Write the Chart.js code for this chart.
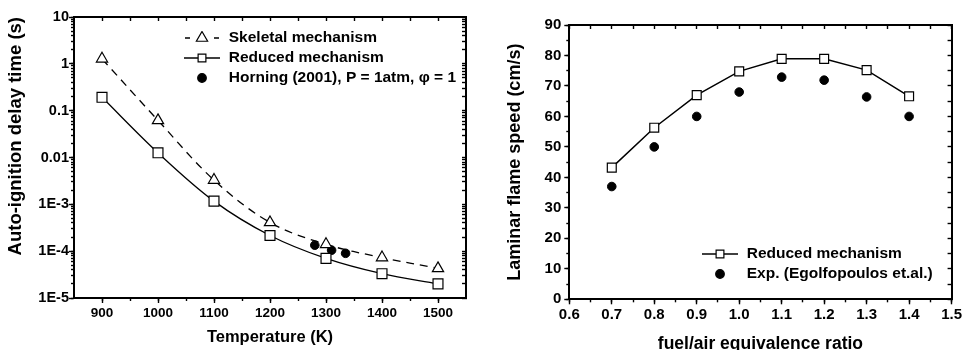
<!DOCTYPE html>
<html>
<head>
<meta charset="utf-8">
<script src="https://cdn.jsdelivr.net/npm/chart.js@4.4.1/dist/chart.umd.min.js"></script>
<style>
  html, body { margin: 0; padding: 0; background: #fff; overflow: hidden; }
  #wrap { position: relative; width: 964px; height: 350px; overflow: hidden; }
  #ignition { position: absolute; left: 0; top: 0; }
  #flame { position: absolute; left: 480px; top: 0; }
</style>
</head>
<body>
<div id="wrap">
  <canvas id="ignition" width="480" height="350"></canvas>
  <canvas id="flame" width="484" height="360"></canvas>
</div>
<script>
// left panel - auto-ignition delay vs temperature
const temps = [900, 1000, 1100, 1200, 1300, 1400, 1500];
const skeletalDelay = [1.28, 0.062, 0.0033, 4.1e-4, 1.4e-4, 7.3e-5, 4.3e-5];
const reducedDelay = [0.193, 0.0126, 1.17e-3, 2.16e-4, 7.0e-5, 3.3e-5, 2.0e-5];
const horningTemps = [1280, 1310, 1335];
const horningDelay = [1.34e-4, 1.05e-4, 0.9e-4];
const tempTicks = [900, 1000, 1100, 1200, 1300, 1400, 1500];
const delayTicks = [1e-5, 1e-4, 1e-3, 0.01, 0.1, 1, 10];
const delayTickLabels = ['1E-5', '1E-4', '1E-3', '0.01', '0.1', '1', '10'];

// right panel - laminar flame speed vs equivalence ratio
const phi = [0.7, 0.8, 0.9, 1.0, 1.1, 1.2, 1.3, 1.4];
const reducedSpeed = [43.2, 56.3, 67.0, 74.8, 78.9, 78.9, 75.2, 66.6];
const expSpeed = [37.0, 50.0, 60.0, 68.0, 72.9, 71.9, 66.4, 60.0];
const phiTicks = [0.6, 0.7, 0.8, 0.9, 1.0, 1.1, 1.2, 1.3, 1.4, 1.5];
const speedTicks = [0, 10, 20, 30, 40, 50, 60, 70, 80, 90];

const FONT = "'Liberation Sans', Arial, Helvetica, sans-serif";
const black = '#000';

function pts(xs, ys) {
  return xs.map((x, i) => ({x: x, y: ys[i]}));
}

// majors plus a minor halfway between each pair
function withHalves(vals) {
  const out = [];
  vals.forEach((v, i) => {
    out.push(v);
    if (i < vals.length - 1) out.push((v + vals[i + 1]) / 2);
  });
  return out;
}

function logMinors(lo, hi) {
  const out = [];
  for (let e = lo; e < hi; e++) {
    for (let m = 1; m < 10; m++) out.push(m * Math.pow(10, e));
  }
  out.push(Math.pow(10, hi));
  return out;
}

const useTicks = vals => scale => { scale.ticks = vals.map(v => ({value: v})); };
const bold = size => ({family: FONT, size: size, weight: 'bold'});

// small picture used as legend symbol: line piece + marker
function legendSymbol(ds) {
  const c = document.createElement('canvas');
  c.width = 36;
  c.height = 14;
  const g = c.getContext('2d');
  g.strokeStyle = black;
  g.lineWidth = 1.3;
  if (ds.legendLine === 'dash') {
    g.beginPath();
    g.moveTo(1, 7); g.lineTo(6, 7);
    g.moveTo(30, 7); g.lineTo(35, 7);
    g.stroke();
  } else if (ds.legendLine === 'solid') {
    g.beginPath();
    g.moveTo(0, 7); g.lineTo(36, 7);
    g.stroke();
  }
  g.fillStyle = ds.pointBackgroundColor;
  g.lineWidth = 1.2;
  Chart.helpers.drawPoint(g, {pointStyle: ds.pointStyle, radius: ds.legendRadius, borderWidth: 1.2}, 18, 7);
  return c;
}

function legendOpts() {
  return {
    position: 'chartArea',
    align: 'start',
    labels: {
      usePointStyle: true,
      pointStyleWidth: 38,
      padding: 4.5,
      color: black,
      font: bold(15.5),
      generateLabels: chart => chart.data.datasets.map((ds, i) => ({
        text: ds.label,
        pointStyle: legendSymbol(ds),
        datasetIndex: i,
        hidden: false,
        fontColor: black,
        lineWidth: 0,
        fillStyle: black,
        strokeStyle: black
      }))
    }
  };
}

// move the in-plot legend to where it sits in the figure
const placeLegend = (dx, dy) => ({
  id: 'placeLegend',
  afterLayout(chart) {
    const lg = chart.legend, area = chart.chartArea;
    lg.left = area.left + dx;
    lg.top = area.top + dy;
    lg.right = area.right;
    lg.bottom = area.bottom;
  }
});

// four framed axes: bottom/left labelled, minor ticks, inward ticks on top/right
function frameScales(o) {
  const gridBase = {drawOnChartArea: false, tickColor: black, tickWidth: 1.4};
  return {
    x: {
      type: 'linear', axis: 'x', position: 'bottom', weight: 1,
      min: o.xMin, max: o.xMax,
      afterBuildTicks: useTicks(o.xTicks),
      ticks: {font: bold(o.xTickSize), color: black, padding: 2, autoSkip: false, maxRotation: 0,
        callback: o.xLabel},
      grid: Object.assign({tickLength: 5}, gridBase),
      border: {color: black, width: 2},
      title: {display: true, text: o.xTitle, color: black, font: bold(o.xTitleSize),
        padding: {top: 0, bottom: o.xTitlePad}},
      afterFit: s => { s.height = o.xHeight; }
    },
    xMinor: {
      type: 'linear', axis: 'x', position: 'bottom', weight: 0,
      min: o.xMin, max: o.xMax,
      afterBuildTicks: useTicks(o.xMinorTicks),
      ticks: {display: false},
      grid: Object.assign({tickLength: 3}, gridBase),
      border: {display: false},
      afterFit: s => { s.height = 0; }
    },
    xTop: {
      type: 'linear', axis: 'x', position: 'top',
      min: o.xMin, max: o.xMax,
      afterBuildTicks: useTicks(o.xMinorTicks),
      ticks: {display: false},
      grid: Object.assign({tickLength: -4}, gridBase),
      border: {color: black, width: 2},
      afterFit: s => { s.height = 0; }
    },
    y: {
      type: o.yType, axis: 'y', position: 'left', weight: 1,
      min: o.yMin, max: o.yMax,
      afterBuildTicks: useTicks(o.yTicks),
      ticks: {font: bold(o.yTickSize), color: black, padding: o.yTickPad, autoSkip: false,
        callback: o.yLabel},
      grid: Object.assign({tickLength: 5}, gridBase),
      border: {color: black, width: 2},
      title: {display: true, text: o.yTitle, color: black, font: bold(o.yTitleSize),
        align: o.yTitleAlign, padding: {top: o.yTitlePad, bottom: 0}},
      afterFit: s => { s.width = o.yWidth; }
    },
    yMinor: {
      type: o.yType, axis: 'y', position: 'left', weight: 0,
      min: o.yMin, max: o.yMax,
      afterBuildTicks: useTicks(o.yMinorTicks),
      ticks: {display: false},
      grid: Object.assign({tickLength: 3}, gridBase),
      border: {display: false},
      afterFit: s => { s.width = 0; }
    },
    yRight: {
      type: o.yType, axis: 'y', position: 'right',
      min: o.yMin, max: o.yMax,
      afterBuildTicks: useTicks(o.yMinorTicks),
      ticks: {display: false},
      grid: Object.assign({tickLength: -4}, gridBase),
      border: {color: black, width: 2},
      afterFit: s => { s.width = 0; }
    }
  };
}

new Chart(document.getElementById('ignition'), {
  type: 'scatter',
  data: {
    datasets: [
      {
        label: 'Skeletal mechanism',
        data: pts(temps, skeletalDelay),
        showLine: true, tension: 0.35,
        borderColor: black, borderWidth: 1.3, borderDash: [8, 6],
        pointStyle: 'triangle', pointRadius: 6.5, legendRadius: 6.5,
        pointBackgroundColor: '#fff', pointBorderColor: black, pointBorderWidth: 1.2,
        legendLine: 'dash', xAxisID: 'x', yAxisID: 'y'
      },
      {
        label: 'Reduced mechanism',
        data: pts(temps, reducedDelay),
        showLine: true, tension: 0.35,
        borderColor: black, borderWidth: 1.3,
        pointStyle: 'rect', pointRadius: 7, legendRadius: 5.5,
        pointBackgroundColor: '#fff', pointBorderColor: black, pointBorderWidth: 1.2,
        legendLine: 'solid', xAxisID: 'x', yAxisID: 'y'
      },
      {
        label: 'Horning (2001), P = 1atm, \u03c6 = 1',
        data: pts(horningTemps, horningDelay),
        showLine: false,
        pointStyle: 'circle', pointRadius: 4.3, legendRadius: 4.3,
        pointBackgroundColor: black, pointBorderColor: black, pointBorderWidth: 1,
        legendLine: 'none', xAxisID: 'x', yAxisID: 'y'
      }
    ]
  },
  options: {
    responsive: false,
    animation: false,
    events: [],
    layout: {autoPadding: false, padding: {left: 0, top: 17, right: 14, bottom: 0}},
    scales: frameScales({
      xMin: 850, xMax: 1550, xTicks: tempTicks, xMinorTicks: withHalves(tempTicks),
      xLabel: v => String(v), xTitle: 'Temperature (K)', xTitleSize: 16.5, xTitlePad: 3, xHeight: 52,
      yType: 'logarithmic', yMin: 1e-5, yMax: 10, yTicks: delayTicks, yMinorTicks: logMinors(-5, 1),
      yLabel: (v, i) => delayTickLabels[i], yTickPad: 0,
      yTitle: 'Auto-ignition delay time (s)', yTitleSize: 18.5, yTitleAlign: 'end', yTitlePad: 5,
      yWidth: 74, xTickSize: 13.5, yTickSize: 14.5
    }),
    plugins: {
      legend: legendOpts(),
      tooltip: {enabled: false}
    }
  },
  plugins: [placeLegend(104.5, 8.75)]
});

new Chart(document.getElementById('flame'), {
  type: 'scatter',
  data: {
    datasets: [
      {
        label: 'Reduced mechanism',
        data: pts(phi, reducedSpeed),
        showLine: true, tension: 0,
        borderColor: black, borderWidth: 1.5,
        pointStyle: 'rect', pointRadius: 6.3, legendRadius: 5.5,
        pointBackgroundColor: '#fff', pointBorderColor: black, pointBorderWidth: 1.2,
        legendLine: 'solid', xAxisID: 'x', yAxisID: 'y'
      },
      {
        label: 'Exp. (Egolfopoulos et.al.)',
        data: pts(phi, expSpeed),
        showLine: false,
        pointStyle: 'circle', pointRadius: 4.3, legendRadius: 4.3,
        pointBackgroundColor: black, pointBorderColor: black, pointBorderWidth: 1,
        legendLine: 'none', xAxisID: 'x', yAxisID: 'y'
      }
    ]
  },
  options: {
    responsive: false,
    animation: false,
    events: [],
    layout: {autoPadding: false, padding: {left: 0, top: 25, right: 11.3, bottom: 0}},
    scales: frameScales({
      xMin: 0.6, xMax: 1.5, xTicks: phiTicks, xMinorTicks: withHalves(phiTicks),
      xLabel: v => v.toFixed(1), xTitle: 'fuel/air equivalence ratio', xTitleSize: 17.5, xTitlePad: 5.5, xHeight: 60.7,
      yType: 'linear', yMin: 0, yMax: 90, yTicks: speedTicks, yMinorTicks: withHalves(speedTicks),
      yLabel: v => String(v), yTickPad: 3,
      yTitle: 'Laminar flame speed (cm/s)', yTitleSize: 18, yTitleAlign: 'center', yTitlePad: 24,
      yWidth: 89.3, xTickSize: 15, yTickSize: 15
    }),
    plugins: {
      legend: legendOpts(),
      tooltip: {enabled: false}
    }
  },
  plugins: [placeLegend(127.2, 216.75)]
});
</script>
</body>
</html>
